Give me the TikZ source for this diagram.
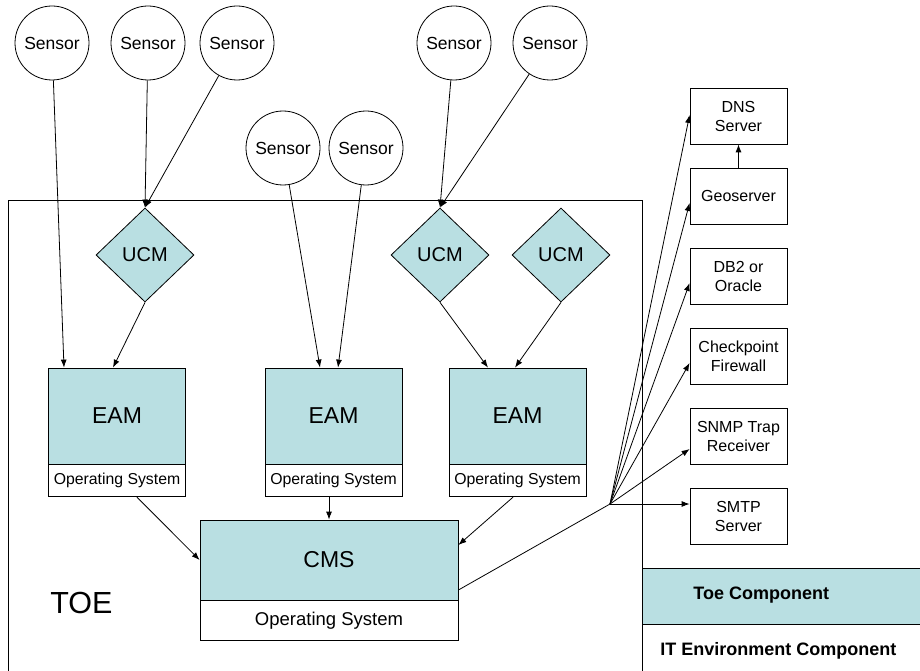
\documentclass[tikz,border=0pt]{standalone}
\usepackage{fontspec}
\setmainfont{Liberation Sans}
\usepackage{tikz}
\usetikzlibrary{arrows,arrows.meta,shapes.geometric,positioning}

\definecolor{toeteal}{RGB}{185,223,226}

\tikzset{
  sensor/.style={circle, draw, minimum size=74pt, inner sep=0pt, font=\fontsize{17.5}{20}\selectfont},
  ucm/.style={diamond, draw, fill=toeteal, minimum width=98pt, minimum height=94pt, inner sep=0pt, font=\fontsize{20}{24}\selectfont},
  eam/.style={rectangle, draw, fill=toeteal, minimum width=137pt, minimum height=96pt, inner sep=0pt, font=\fontsize{23}{27}\selectfont},
  os/.style={rectangle, draw, fill=white, minimum width=137pt, minimum height=32pt, inner sep=0pt, font=\fontsize{15.8}{19}\selectfont},
  itbox/.style={rectangle, draw, fill=white, minimum width=97pt, minimum height=56pt, inner sep=0pt, align=center, font=\fontsize{16}{19}\selectfont},
  legbox/.style={rectangle, draw, minimum width=290pt, minimum height=56pt, inner sep=0pt, anchor=north west},
  legtext/.style={anchor=base west, inner sep=0pt, font=\bfseries\fontsize{18}{21}\selectfont},
}

\begin{document}
\begin{tikzpicture}[x=1pt, y=-1pt, line width=0.8pt, >={Latex[length=8pt,width=6pt]}]
	\useasboundingbox (0,0) rectangle (920,671);

	% TOE boundary
	\draw (8,200) rectangle (642,690);
	\node[anchor=base west, inner sep=0pt, font=\fontsize{30.5}{36}\selectfont] (toetitle) at (50,613) {TOE};

	% sensors
	\node[sensor] (s1) at (52,43)   {Sensor};
	\node[sensor] (s2) at (148,43)  {Sensor};
	\node[sensor] (s3) at (237,43)  {Sensor};
	\node[sensor] (s4) at (283,148) {Sensor};
	\node[sensor] (s5) at (366,148) {Sensor};
	\node[sensor] (s6) at (454,43)  {Sensor};
	\node[sensor] (s7) at (550,43)  {Sensor};

	% UCMs
	\node[ucm] (ucm1) at (145,255) {UCM};
	\node[ucm] (ucm2) at (440,255) {UCM};
	\node[ucm] (ucm3) at (561,255) {UCM};

	% EAMs
	\node[eam] (eam1) at (117,416)   {EAM};
	\node[os, below=0pt of eam1] (os1) {Operating System};
	\node[eam] (eam2) at (333.5,416) {EAM};
	\node[os, below=0pt of eam2] (os2) {Operating System};
	\node[eam] (eam3) at (517.5,416) {EAM};
	\node[os, below=0pt of eam3] (os3) {Operating System};

	% CMS
	\node[eam, minimum width=258pt, minimum height=80pt] (cms) at (329,560) {CMS};
	\node[os, minimum width=258pt, minimum height=40pt, font=\fontsize{18.5}{22}\selectfont, below=0pt of cms] (cmsos) {Operating System};

	% IT environment
	\node[itbox] (dns)  at (738.5,116) {DNS\\Server};
	\node[itbox] (geo)  at (738.5,196) {Geoserver};
	\node[itbox] (db)   at (738.5,276) {DB2 or\\Oracle};
	\node[itbox] (fw)   at (738.5,356) {Checkpoint\\Firewall};
	\node[itbox] (snmp) at (738.5,436) {SNMP Trap\\Receiver};
	\node[itbox] (smtp) at (738.5,516) {SMTP\\Server};
	\coordinate (hub) at (610,504);

	% legend
	\node[legbox, fill=toeteal] (legtoe) at (642,568) {};
	\node[legbox] (legit) at (642,624) {};
	\node[legtext] (legtoetext) at (693,599) {Toe Component};
	\node[legtext] (legittext) at (660,655) {IT Environment Component};

	\draw [arrows=->] (s1) -- ([xshift=-53pt]eam1.north);
	\draw [arrows=->] (s2) -- (ucm1.north);
	\draw [arrows=->] (s3) -- (ucm1.north);
	\draw [arrows=->] (ucm1.south) -- ([xshift=-4pt]eam1.north);
	\draw [arrows=->] (s4) -- ([xshift=-13.5pt]eam2.north);
	\draw [arrows=->] (s5) -- ([xshift=4.5pt]eam2.north);
	\draw [arrows=->] (s6) -- (ucm2.north);
	\draw [arrows=->] (s7) -- (ucm2.north);
	\draw [arrows=->] (ucm2.south) -- ([xshift=-29.5pt]eam3.north);
	\draw [arrows=->] (ucm3.south) -- ([xshift=-2.5pt]eam3.north);

	\draw [arrows=->] ([xshift=20pt]os1.south) -- (cms.west);
	\draw [arrows=->] (os2.south -| cms.north) -- (cms.north);
	\draw [arrows=->] ([xshift=-4.5pt]os3.south) -- ([yshift=15pt]cms.east);
	\draw ([yshift=-30pt]cms.east) -- (hub);

	\draw [arrows=->] (hub) -- ([yshift=1pt]dns.west);
	\draw [arrows=->] (hub) -- ([yshift=-7pt]geo.west);
	\draw [arrows=->] (hub) -- ([yshift=-7pt]db.west);
	\draw [arrows=->] (hub) -- ([yshift=-7pt]fw.west);
	\draw [arrows=->] (hub) -- ([yshift=-13pt]snmp.west);
	\draw [arrows=->] (hub) -- ([yshift=12pt]smtp.west);
	\draw [arrows=->] (geo) -- (dns);
\end{tikzpicture}
\end{document}
